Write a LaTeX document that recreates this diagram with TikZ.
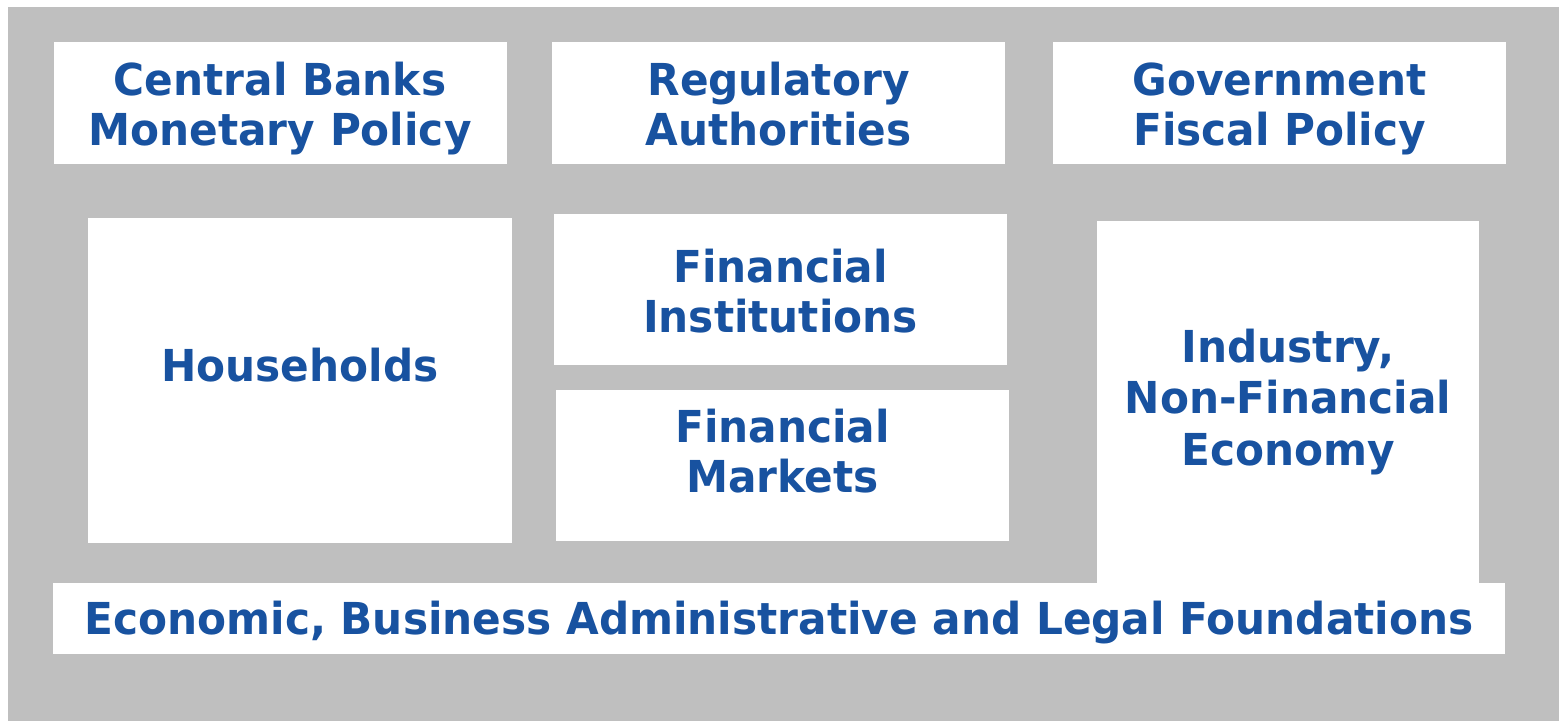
\documentclass[tikz,border=0pt]{standalone}
\usepackage{fontspec}
\setmainfont[FakeStretch=0.96]{DejaVu Sans}
\definecolor{darkblue}{RGB}{24,82,160}
\definecolor{boxgray}{RGB}{191,191,191}
\usetikzlibrary{positioning}

\begin{document}
\begin{tikzpicture}[x=1pt,y=-1pt]
% struts: height above and depth below the last line
\tikzset{field/.style 2 args={rectangle, fill=white, inner sep=0pt, align=center, text=darkblue,
  font=\fontsize{44}{50}\selectfont\bfseries,
  execute at begin node={\rule{0pt}{#1}}, execute at end node={\rule[-#2]{0pt}{#2}}}}
\tikzstyle{top}=[field={100pt}{16pt}, minimum width=453pt, minimum height=122pt]
\tikzstyle{mid}=[minimum width=453pt, minimum height=151pt]
\useasboundingbox (0,0) rectangle (1559,721);
\fill[boxgray] (8,7) rectangle (1559,721);

	\node[top] (cb) at (280,103) {Central Banks\\Monetary Policy};
	\node[top] (reg) at (778.5,103) {Regulatory\\Authorities};
	\node[top] (gov) at (1279.5,103) {Government\\Fiscal Policy};
	\node[field={40pt}{38pt}, minimum width=424pt, minimum height=325pt] (hh) at (300,380.5) {Households};
	\node[field={101pt}{16pt}, mid] (fi) at (780.5,289.5) {Financial\\Institutions};
	\node[field={90pt}{37pt}, mid] (fm) at (782.5,465.5) {Financial\\Markets};
	\node[field={146pt}{20pt}, minimum width=382pt, minimum height=362pt,
	  font=\fontsize{44}{51.5}\selectfont\bfseries] (ind) at (1288,402) {Industry,\\Non-Financial\\Economy};
	\node[field={42pt}{9pt}, minimum width=1452pt, minimum height=71pt] (fnd) at (779,618.5) {Economic, Business Administrative and Legal Foundations};

\end{tikzpicture}
\end{document}
